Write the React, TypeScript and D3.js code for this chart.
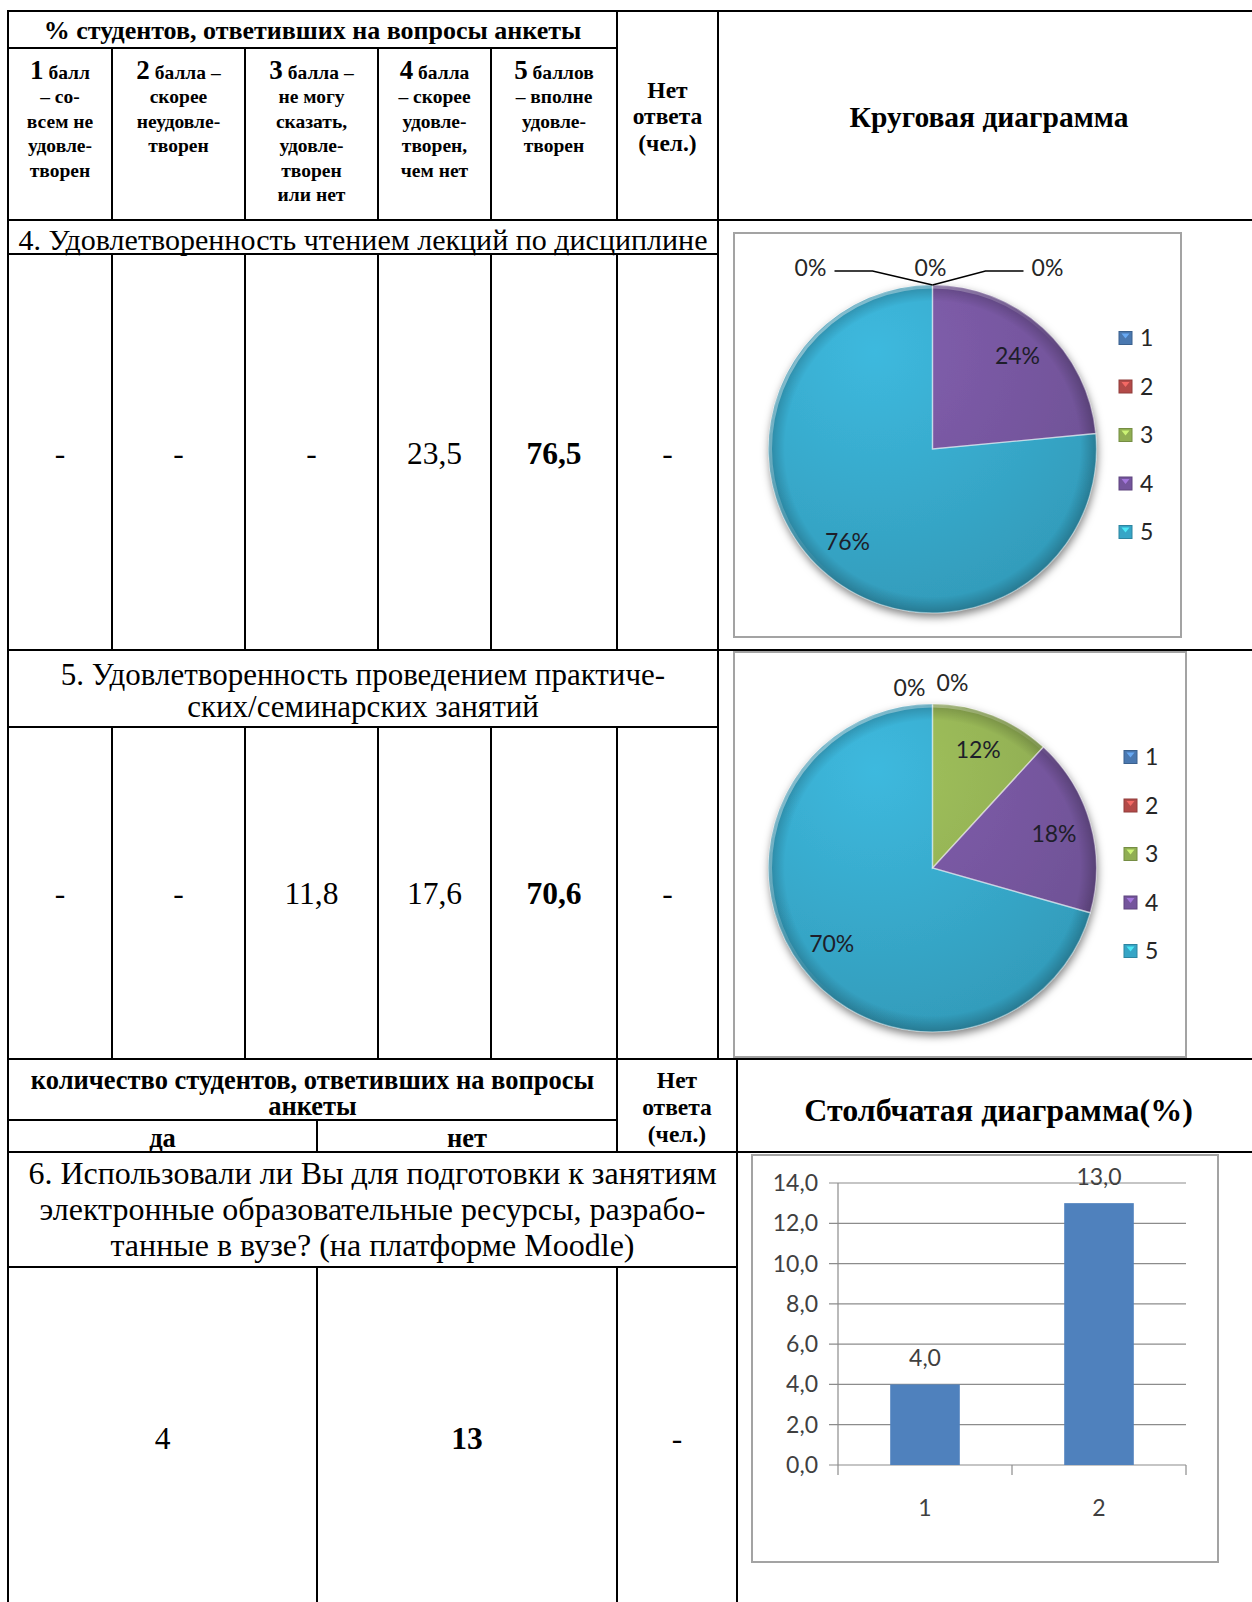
import { useEffect, useRef } from 'react';
import * as d3 from 'd3';

// ---- data ----
const groupTitle = '% студентов, ответивших на вопросы анкеты';
const scoreDigits = ['1', '2', '3', '4', '5'];
const scoreCaptions = [
  ['балл', '– со-', 'всем не', 'удовле-', 'творен'],
  ['балла –', 'скорее', 'неудовле-', 'творен'],
  ['балла –', 'не могу', 'сказать,', 'удовле-', 'творен', 'или нет'],
  ['балла', '– скорее', 'удовле-', 'творен,', 'чем нет'],
  ['баллов', '– вполне', 'удовле-', 'творен'],
];
const noAnswerTitle = ['Нет', 'ответа', '(чел.)'];
const pieTitle = 'Круговая диаграмма';

const q4Title = ['4. Удовлетворенность чтением лекций по дисциплине'];
const q4Percent: (number | null)[] = [null, null, null, 23.5, 76.5];
const q4NoAnswer: number | null = null;

const q5Title = ['5. Удовлетворенность проведением практиче-', 'ских/семинарских занятий'];
const q5Percent: (number | null)[] = [null, null, 11.8, 17.6, 70.6];
const q5NoAnswer: number | null = null;

const pieSeries = ['1', '2', '3', '4', '5'];
const pieColors = ['#4f81bd', '#c0504d', '#9bbb59', '#7d5ba8', '#3ab1d5'];
const pie4Shares = [0, 0, 0, 23.5, 76.5];
const pie4Labels = ['0%', '0%', '0%', '24%', '76%'];
const pie5Shares = [0, 0, 11.8, 17.6, 70.6];
const pie5Labels = ['0%', '0%', '12%', '18%', '70%'];

const countTitle = ['количество студентов, ответивших на вопросы', 'анкеты'];
const yesNo = ['да', 'нет'];
const barTitle = 'Столбчатая диаграмма(%)';
const q6Title = [
  '6. Использовали ли Вы для подготовки к занятиям',
  'электронные образовательные ресурсы, разрабо-',
  'танные в вузе? (на платформе Moodle)',
];
const q6Counts = [4, 13];
const q6NoAnswer: number | null = null;
const barCategories = ['1', '2'];
const barTicks = [0, 2, 4, 6, 8, 10, 12, 14];

// ---- layout ----
const W = 1252;
const H = 1602;
const SERIF = '"Liberation Serif", "Times New Roman", serif';
const SANS = 'Lato, "Open Sans", sans-serif';
const colX = [8, 112, 245, 378, 491, 617, 718];
const lowX = [8, 317, 617, 737];
const rowY = {
  top: 11, group: 48, head: 220, q4t: 254, q4: 650, q5t: 727, q5: 1059,
  cnt: 1120, yn: 1152, q6t: 1267, bottom: H,
};

const ru = d3.formatLocale({ decimal: ',', thousands: ' ', grouping: [3], currency: ['', ''] });
const fmt1 = ru.format('.1f');

function cellText(v: number | null) {
  return v == null ? '-' : fmt1(v);
}

function Lines() {
  const h: [number, number, number][] = [
    [rowY.top, colX[0], W],
    [rowY.group, colX[0], colX[5]],
    [rowY.head, colX[0], W],
    [rowY.q4t, colX[0], colX[6]],
    [rowY.q4, colX[0], W],
    [rowY.q5t, colX[0], colX[6]],
    [rowY.q5, colX[0], W],
    [rowY.cnt, lowX[0], lowX[2]],
    [rowY.yn, lowX[0], W],
    [rowY.q6t, lowX[0], lowX[3]],
  ];
  const v: [number, number, number][] = [
    [colX[0], rowY.top, rowY.bottom],
    [colX[5], rowY.top, rowY.head],
    [colX[6], rowY.top, rowY.q5],
    [lowX[2], rowY.q5, rowY.yn],
    [lowX[1], rowY.cnt, rowY.yn],
    [lowX[3], rowY.q5, rowY.bottom],
    [lowX[1], rowY.q6t, rowY.bottom],
    [lowX[2], rowY.q6t, rowY.bottom],
  ];
  for (let i = 1; i <= 5; i++) {
    if (i < 5) v.push([colX[i], rowY.group, rowY.head]);
    v.push([colX[i], rowY.q4t, rowY.q4]);
    v.push([colX[i], rowY.q5t, rowY.q5]);
  }
  return (
    <g stroke="#000" strokeWidth={2}>
      {h.map(([y, a, b], i) => <line key={'h' + i} x1={a - 1} x2={b} y1={y} y2={y} />)}
      {v.map(([x, a, b], i) => <line key={'v' + i} x1={x} x2={x} y1={a - 1} y2={b} />)}
    </g>
  );
}

function Block({ lines, x, y, size, bold, gap }: { lines: string[]; x: number; y: number; size: number; bold?: boolean; gap: number }) {
  const y0 = y - ((lines.length - 1) * gap) / 2;
  return (
    <g fontFamily={SERIF} fontSize={size} fontWeight={bold ? 700 : 400} textAnchor="middle">
      {lines.map((l, i) => (
        <text key={i} x={x} y={y0 + i * gap} dy="0.35em">{l}</text>
      ))}
    </g>
  );
}

function ValueRow({ values, noAnswer, y }: { values: (number | null)[]; noAnswer: number | null; y: number }) {
  const max = d3.max(values.map((d) => d ?? -1)) ?? 0;
  const cells = [...values, noAnswer];
  return (
    <g fontFamily={SERIF} fontSize={31.5} textAnchor="middle">
      {cells.map((v, i) => (
        <text key={i} x={(colX[i] + colX[i + 1]) / 2} y={y} dy="0.35em" fontWeight={i < 5 && v === max ? 700 : 400}>
          {cellText(v)}
        </text>
      ))}
    </g>
  );
}

function Pie({ box, shares, labels, zeroSpots }: { box: [number, number, number, number]; shares: number[]; labels: string[]; zeroSpots: [number, number][] }) {
  const ref = useRef<SVGGElement>(null);
  useEffect(() => {
    if (!ref.current) return;
    const g = d3.select(ref.current);
    g.selectAll('*').remove();
    const [x0, y0, x1, y1] = box;
    const uid = 'p' + y0;

    g.append('rect')
      .attr('x', x0).attr('y', y0).attr('width', x1 - x0).attr('height', y1 - y0)
      .attr('fill', '#fff').attr('stroke', '#a3a3a3').attr('stroke-width', 2);

    const cx = x0 + 198.5;
    const cy = y0 + 216;
    const r = 164;

    const defs = g.append('defs');
    const sh = defs.append('filter').attr('id', uid + 'sh').attr('x', '-20%').attr('y', '-20%').attr('width', '140%').attr('height', '140%');
    sh.append('feDropShadow').attr('dx', 1).attr('dy', 4).attr('stdDeviation', 4).attr('flood-color', '#000').attr('flood-opacity', 0.5);

    // fills are in the pie's own space (origin at the centre)
    pieColors.forEach((c, i) => {
      const base = d3.color(c)!;
      const gr = defs.append('radialGradient').attr('id', `${uid}g${i}`)
        .attr('gradientUnits', 'userSpaceOnUse')
        .attr('cx', -r * 0.35).attr('cy', -r * 0.6).attr('r', r * 1.9);
      gr.append('stop').attr('offset', '0%').attr('stop-color', base.brighter(0.12).formatHex());
      gr.append('stop').attr('offset', '100%').attr('stop-color', base.darker(0.45).formatHex());
    });
    const rim = defs.append('radialGradient').attr('id', uid + 'rim')
      .attr('gradientUnits', 'userSpaceOnUse').attr('cx', 0).attr('cy', 0).attr('r', r);
    rim.append('stop').attr('offset', '90%').attr('stop-color', '#000').attr('stop-opacity', 0);
    rim.append('stop').attr('offset', '100%').attr('stop-color', '#000').attr('stop-opacity', 0.22);

    const pie = d3.pie<number>().sort(null).value((d) => d);
    const arcs = pie(shares);
    const live = arcs.filter((a) => a.value > 0);
    const arc = d3.arc<d3.PieArcDatum<number>>().innerRadius(0).outerRadius(r);

    const body = g.append('g').attr('transform', `translate(${cx},${cy})`);
    body.append('g').attr('filter', `url(#${uid}sh)`)
      .selectAll('path').data(live).enter().append('path')
      .attr('d', (d) => arc(d) ?? '')
      .attr('fill', (d) => `url(#${uid}g${d.index})`);
    body.append('circle').attr('r', r).attr('fill', `url(#${uid}rim)`);
    // bevel highlight along upper-left rim
    const hl = defs.append('linearGradient').attr('id', uid + 'hl').attr('x1', '0').attr('y1', '0').attr('x2', '1').attr('y2', '1');
    hl.append('stop').attr('offset', '0%').attr('stop-color', '#fff').attr('stop-opacity', 0.55);
    hl.append('stop').attr('offset', '55%').attr('stop-color', '#fff').attr('stop-opacity', 0);
    body.append('circle').attr('r', r - 2).attr('fill', 'none').attr('stroke', `url(#${uid}hl)`).attr('stroke-width', 3);
    body.selectAll('path.edge').data(live).enter().append('path')
      .attr('class', 'edge')
      .attr('d', (d) => arc(d) ?? '')
      .attr('fill', 'none')
      .attr('stroke', '#fff')
      .attr('stroke-opacity', 0.4)
      .attr('stroke-width', 1.4);

    // slice labels
    const labelArc = d3.arc<d3.PieArcDatum<number>>().innerRadius(r * 0.77).outerRadius(r * 0.77);
    const top: [number, number] = [cx, cy - r];
    let z = 0;
    arcs.forEach((a) => {
      if (a.value > 0) {
        const [lx, ly] = labelArc.centroid(a);
        g.append('text').attr('x', cx + lx).attr('y', cy + ly).attr('dy', '0.35em')
          .attr('text-anchor', 'middle').attr('font-family', SANS).attr('font-size', 23)
          .attr('fill', '#1e1e2a').text(labels[a.index]);
      } else {
        const [ox, oy] = zeroSpots[z++];
        const tx = top[0] + ox;
        const ty = top[1] + oy;
        g.append('text').attr('x', tx).attr('y', ty).attr('dy', '0.35em')
          .attr('text-anchor', 'middle').attr('font-family', SANS).attr('font-size', 23)
          .attr('fill', '#262626').text(labels[a.index]);
        if (Math.abs(ox) > 60) {
          const s = Math.sign(ox);
          const ex = tx - s * 24;
          g.append('polyline')
            .attr('points', [[ex, ty + 3], [ex - s * 38, ty + 3], top].map((p) => p.join(',')).join(' '))
            .attr('fill', 'none').attr('stroke', '#000').attr('stroke-width', 1.5);
        }
      }
    });

    // legend
    const lx = x1 - 62;
    const ly = d3.scalePoint<string>().domain(pieSeries).range([y0 + 105, y0 + 105 + 48.5 * 4]);
    pieSeries.forEach((s, i) => {
      const c = d3.color(pieColors[i])!;
      g.append('rect').attr('x', lx).attr('y', ly(s)! - 6.5).attr('width', 13).attr('height', 13)
        .attr('fill', c.darker(0.2).formatHex()).attr('stroke', c.darker(0.8).formatHex()).attr('stroke-width', 1);
      g.append('path').attr('d', `M${lx + 2.5},${ly(s)! - 4.5} L${lx + 10.5},${ly(s)! - 4.5} L${lx + 6.5},${ly(s)! + 0.5} Z`)
        .attr('fill', c.brighter(0.9).formatHex()).attr('opacity', 0.85);
      g.append('text').attr('x', lx + 21).attr('y', ly(s)!).attr('dy', '0.35em')
        .attr('font-family', SANS).attr('font-size', 23).attr('fill', '#262626').text(s);
    });
  }, []);
  return <g ref={ref} />;
}

function Bars() {
  const ref = useRef<SVGGElement>(null);
  useEffect(() => {
    if (!ref.current) return;
    const g = d3.select(ref.current);
    g.selectAll('*').remove();
    const box = [752, 1155, 1218, 1562];
    g.append('rect')
      .attr('x', box[0]).attr('y', box[1]).attr('width', box[2] - box[0]).attr('height', box[3] - box[1])
      .attr('fill', '#fff').attr('stroke', '#a3a3a3').attr('stroke-width', 2);

    const left = 838;
    const right = 1186;
    const x = d3.scaleBand<string>().domain(barCategories).range([left, right]).paddingInner(0.6).paddingOuter(0.3);
    const y = d3.scaleLinear().domain([0, 14]).range([1465, 1183]);

    g.append('g').selectAll('line').data(barTicks).enter().append('line')
      .attr('x1', left - 9).attr('x2', right).attr('y1', (d) => y(d)).attr('y2', (d) => y(d))
      .attr('stroke', '#8c8c8c').attr('stroke-width', 1.2);
    g.append('line').attr('x1', left).attr('x2', left).attr('y1', y(14)).attr('y2', y(0))
      .attr('stroke', '#8c8c8c').attr('stroke-width', 1.2);
    // category boundary ticks
    const edges = [left, ...barCategories.slice(1).map((c) => x(c)! - (x.step() * x.paddingInner()) / 2), right];
    g.append('g').selectAll('line').data(edges).enter().append('line')
      .attr('x1', (d) => d).attr('x2', (d) => d).attr('y1', y(0)).attr('y2', y(0) + 10)
      .attr('stroke', '#8c8c8c').attr('stroke-width', 1.2);

    g.append('g').selectAll('text').data(barTicks).enter().append('text')
      .attr('x', left - 20).attr('y', (d) => y(d)).attr('dy', '0.35em').attr('text-anchor', 'end')
      .attr('font-family', SANS).attr('font-size', 23).attr('fill', '#404040')
      .text((d) => fmt1(d));

    g.append('g').selectAll('rect').data(q6Counts).enter().append('rect')
      .attr('x', (_, i) => x(barCategories[i])!).attr('width', x.bandwidth())
      .attr('y', (d) => y(d)).attr('height', (d) => y(0) - y(d))
      .attr('fill', '#4f81bd');

    g.append('g').selectAll('text').data(q6Counts).enter().append('text')
      .attr('x', (_, i) => x(barCategories[i])! + x.bandwidth() / 2).attr('y', (d) => y(d) - 26)
      .attr('dy', '0.35em').attr('text-anchor', 'middle')
      .attr('font-family', SANS).attr('font-size', 23).attr('fill', '#404040')
      .text((d) => fmt1(d));

    g.append('g').selectAll('text').data(barCategories).enter().append('text')
      .attr('x', (d) => x(d)! + x.bandwidth() / 2).attr('y', y(0) + 43).attr('dy', '0.35em')
      .attr('text-anchor', 'middle').attr('font-family', SANS).attr('font-size', 23).attr('fill', '#404040')
      .text((d) => d);
  }, []);
  return <g ref={ref} />;
}

export default function App() {
  const capGap = 24.5;
  return (
    <div style={{ position: 'absolute', left: 0, top: 0 }}>
      <svg width={W} height={H} viewBox={`0 0 ${W} ${H}`} style={{ display: 'block', background: '#fff' }}>
        <rect width={W} height={H} fill="#fff" />

        {/* top header */}
        <Block lines={[groupTitle]} x={(colX[0] + colX[5]) / 2} y={30} size={26} bold gap={0} />
        {scoreCaptions.map((lines, i) => {
          const cx = (colX[i] + colX[i + 1]) / 2;
          return (
            <g key={i} fontFamily={SERIF} fontWeight={700} textAnchor="middle">
              {lines.map((l, j) => (
                <text key={j} x={cx} y={72 + j * capGap} dy="0.35em" fontSize={19.5}>
                  {j === 0 ? (
                    <>
                      <tspan fontSize={27}>{scoreDigits[i]}</tspan>
                      <tspan> {l}</tspan>
                    </>
                  ) : l}
                </text>
              ))}
            </g>
          );
        })}
        <Block lines={noAnswerTitle} x={(colX[5] + colX[6]) / 2} y={116} size={23.5} bold gap={26.5} />
        <Block lines={[pieTitle]} x={(colX[6] + W) / 2 + 4} y={117} size={29.5} bold gap={0} />

        {/* question 4 */}
        <Block lines={q4Title} x={(colX[0] + colX[6]) / 2} y={239} size={30} gap={0} />
        <ValueRow values={q4Percent} noAnswer={q4NoAnswer} y={453} />

        {/* question 5 */}
        <Block lines={q5Title} x={(colX[0] + colX[6]) / 2} y={690} size={31} gap={32} />
        <ValueRow values={q5Percent} noAnswer={q5NoAnswer} y={893} />

        {/* lower header */}
        <Block lines={countTitle} x={(lowX[0] + lowX[2]) / 2} y={1093} size={26.5} bold gap={26} />
        {yesNo.map((t, i) => (
          <Block key={t} lines={[t]} x={(lowX[i] + lowX[i + 1]) / 2} y={1138} size={26.5} bold gap={0} />
        ))}
        <Block lines={noAnswerTitle} x={(lowX[2] + lowX[3]) / 2} y={1107} size={23.5} bold gap={27} />
        <Block lines={[barTitle]} x={(lowX[3] + W) / 2 + 4} y={1110} size={32} bold gap={0} />

        {/* question 6 */}
        <Block lines={q6Title} x={(lowX[0] + lowX[3]) / 2} y={1209} size={32} gap={36} />
        <g fontFamily={SERIF} fontSize={31.5} textAnchor="middle">
          {[...q6Counts, q6NoAnswer].map((v, i) => (
            <text key={i} x={(lowX[i] + lowX[i + 1]) / 2} y={1438} dy="0.35em"
              fontWeight={v === d3.max(q6Counts) ? 700 : 400}>
              {v == null ? '-' : String(v)}
            </text>
          ))}
        </g>

        <Pie box={[734, 233, 1181, 637]} shares={pie4Shares} labels={pie4Labels}
          zeroSpots={[[-122, -17], [-2, -17], [115, -17]]} />
        <Pie box={[734, 652, 1186, 1057]} shares={pie5Shares} labels={pie5Labels}
          zeroSpots={[[-23, -16], [20, -21]]} />
        <Bars />

        <Lines />
      </svg>
    </div>
  );
}
